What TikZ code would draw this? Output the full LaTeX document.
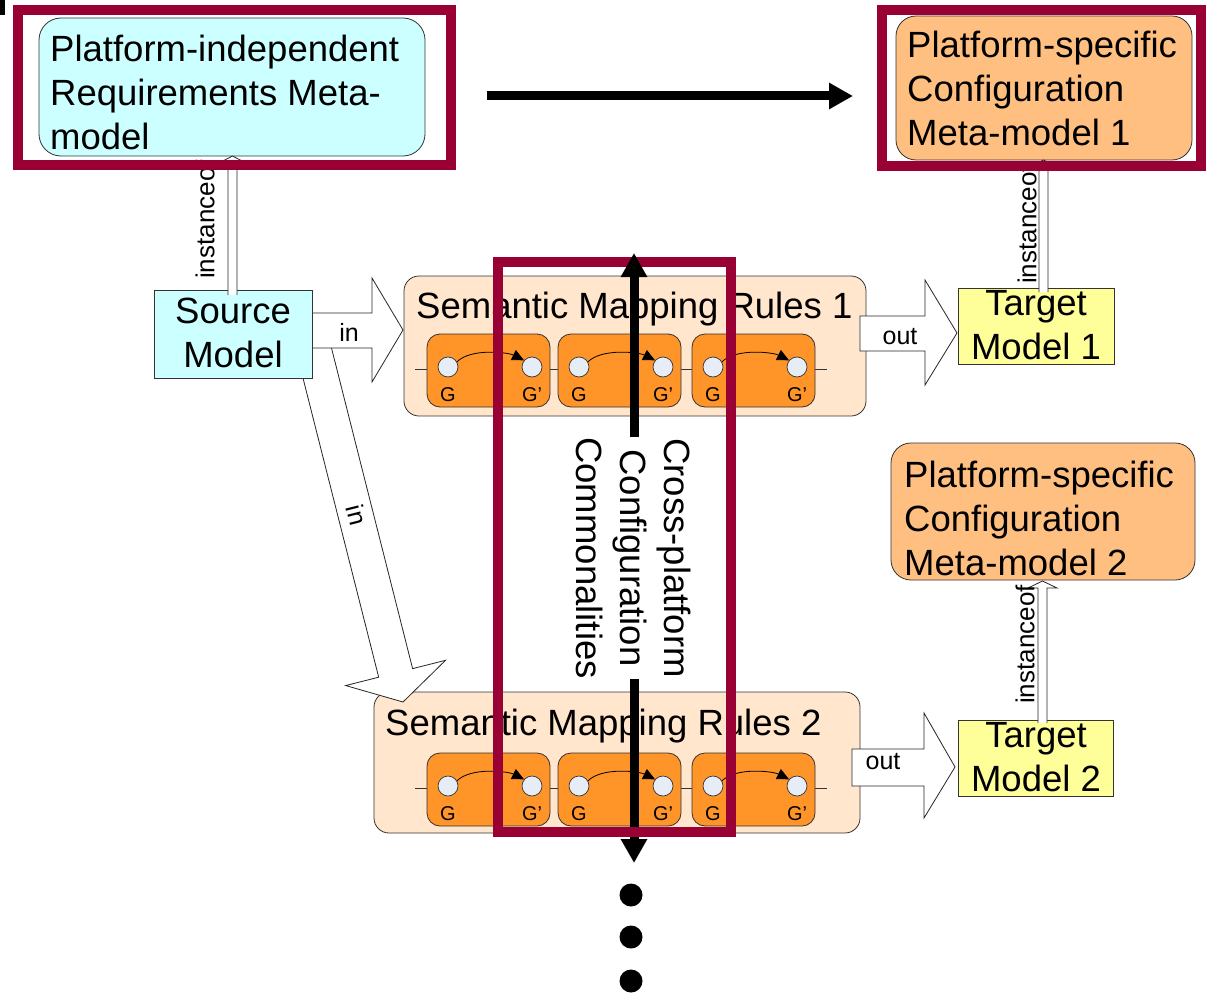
\documentclass[tikz,border=0pt]{standalone}
\usepackage{fontspec}
\setmainfont{Liberation Sans}
\usetikzlibrary{arrows.meta}

\definecolor{hlred}{HTML}{990033}
\definecolor{reqcyan}{HTML}{CCFFFF}
\definecolor{cfgorange}{HTML}{FFBF80}
\definecolor{rulepeach}{HTML}{FFE6CC}
\definecolor{ruleorange}{HTML}{FF9429}
\definecolor{graphnode}{HTML}{E6EDF7}
\definecolor{tgtyellow}{HTML}{FFFF99}
\definecolor{edgegrey}{HTML}{333333}

\tikzset{
  bigtext/.style={font=\fontsize{36.5}{44}\selectfont, inner sep=0pt, align=left},
  lbltext/.style={font=\fontsize{25}{30}\selectfont, inner sep=0pt},
  insttext/.style={font=\fontsize{26}{30}\selectfont, inner sep=0pt},
  gtext/.style={font=\fontsize{20}{24}\selectfont, inner sep=0pt},
  plainbox/.style={draw=edgegrey, line width=0.8pt, inner sep=0pt, outer sep=0pt},
  reqbox/.style={plainbox, fill=reqcyan, rounded corners=22pt},
  cfgbox/.style={plainbox, fill=cfgorange, rounded corners=20pt},
  srcbox/.style={plainbox, fill=reqcyan},
  tgtbox/.style={plainbox, fill=tgtyellow},
  container/.style={plainbox, fill=rulepeach, rounded corners=15pt},
  rulebox/.style={plainbox, fill=ruleorange, rounded corners=13pt,
    minimum width=123pt, minimum height=73pt},
  gnode/.style={circle, draw=edgegrey, line width=0.7pt, fill=graphnode,
    inner sep=0pt, minimum size=20pt},
  rail/.style={draw=edgegrey, line width=0.7pt},
  rulearc/.style={draw=black, line width=0.8pt, -{Triangle[length=12pt,width=11pt]}},
  blockarrow/.style={draw=black!85, fill=white, line width=0.8pt, line join=miter},
  hlframe/.style={draw=hlred, line width=10.5pt},
  bigarrow/.style={line width=9pt, -{Triangle[length=24pt,width=25pt]}},
  bigdot/.style={circle, fill=black, inner sep=0pt, minimum size=23pt},
}

\begin{document}
\begin{tikzpicture}[x=1pt,y=-1pt]
\useasboundingbox (0,0) rectangle (1206,995);
\fill[white] (0,0) rectangle (1206,995);

% small corner mark
\fill[black] (0,0) rectangle (5,15);

% ---- rule containers and their graph rules ----
\node[container, minimum width=462pt, minimum height=140pt, anchor=north west] (smr1) at (404,276) {};
\node[container, minimum width=486pt, minimum height=141pt, anchor=north west] (smr2) at (374,692) {};
\node[bigtext, anchor=base west] (smr1t) at (416,318) {Semantic Mapping Rules 1};
\node[bigtext, anchor=base west] (smr2t) at (385,735) {Semantic Mapping Rules 2};

\foreach \r/\t in {a/334,b/753}{
  \draw[rail] (415,\t+35) -- (827,\t+35);
  \foreach \i/\x in {1/427,2/558,3/692}{
    \node[rulebox, anchor=north west] (rb\r\i) at (\x,\t) {};
    \node[gnode] (gl\r\i) at (\x+21,\t+33) {};
    \node[gnode] (gr\r\i) at (\x+105,\t+33) {};
    \draw[rulearc] (gl\r\i.30) .. controls +(14,-14) and +(-16,-8) .. (gr\r\i.140);
    \node[gtext, anchor=base] (gt\r\i) at (\x+21,\t+67) {G};
    \node[gtext, anchor=base] (gp\r\i) at (\x+105,\t+67) {G’};
  }
}

% ---- block arrows ----
% source model to second rule set
\begin{scope}[shift={(403,702)}, rotate=-75.8]
  \draw[blockarrow] (-375,17.5) -- (-30,17.5) -- (-30,51.5) -- (0,0)
    -- (-30,-51.5) -- (-30,-17.5) -- (-375,-17.5) -- cycle;
\end{scope}
\node[lbltext, rotate=-75.8] (inlab2) at (357,515) {in};

% source model to first rule set
\draw[blockarrow] (300,313) -- (372,313) -- (372,278) -- (403,330)
  -- (372,382) -- (372,348) -- (300,348) -- cycle;
\node[lbltext] (inlab1) at (349,332) {in};

% rule sets to target models
\draw[blockarrow] (860,316) -- (925,316) -- (925,280) -- (957,333)
  -- (925,385) -- (925,351) -- (860,351) -- cycle;
\node[lbltext] (outlab1) at (900,337) {out};
\draw[blockarrow] (852,749) -- (924,749) -- (924,713) -- (955,767)
  -- (924,818) -- (924,786) -- (852,786) -- cycle;
\node[lbltext] (outlab2) at (883,762) {out};

% ---- models (multi-line texts are placed by their last baseline) ----
\node[srcbox, minimum width=158pt, minimum height=88pt, anchor=north west] (src) at (154,290) {};
\node[bigtext, align=center, anchor=base] (srct) at (233,367) {Source\\Model};

\node[tgtbox, minimum width=156pt, minimum height=76pt, anchor=north west] (tgt1) at (958,288) {};
\node[bigtext, align=center, anchor=base] (tgt1t) at (1036,359) {Target\\Model 1};

\node[tgtbox, minimum width=155pt, minimum height=76pt, anchor=north west] (tgt2) at (958,720) {};
\node[bigtext, align=center, anchor=base] (tgt2t) at (1036,791) {Target\\Model 2};

\node[reqbox, minimum width=386pt, minimum height=138pt, anchor=north west] (pir) at (39,18) {};
\node[bigtext, anchor=base west] (pirt) at (50,150) {Platform-independent\\Requirements Meta-\\model};

\node[cfgbox, minimum width=296pt, minimum height=144pt, anchor=north west] (cfg1) at (896,16) {};
\node[bigtext, anchor=base west] (cfg1t) at (907,146) {Platform-specific\\Configuration\\Meta-model 1};

\node[cfgbox, minimum width=304pt, minimum height=137pt, anchor=north west] (cfg2) at (891,443) {};
\node[bigtext, anchor=base west] (cfg2t) at (904,575) {Platform-specific\\Configuration\\Meta-model 2};

% ---- instanceof arrows ----
\draw[blockarrow] (228,295) -- (228,162) -- (221,162) -- (232.5,156)
  -- (244,162) -- (237,162) -- (237,295);
\node[insttext, rotate=90, anchor=west] (inst1) at (205,279) {instanceof};

\draw[blockarrow] (1039,292) -- (1039,166) -- (1032,166) -- (1043.5,160)
  -- (1055,166) -- (1048,166) -- (1048,292);
\node[insttext, rotate=90, anchor=west] (inst2) at (1027,284) {instanceof};

\draw[blockarrow] (1038,723) -- (1038,588) -- (1028,588) -- (1042.5,581)
  -- (1057,588) -- (1047,588) -- (1047,723);
\node[insttext, rotate=90, anchor=west] (inst3) at (1025,704) {instanceof};

% ---- derivation arrow between meta-models ----
\coordinate (ha) at (487,96);
\coordinate (hb) at (853,96);
\draw[bigarrow] (ha) -- (hb);

% ---- cross-platform commonalities ----
\node[bigtext, align=center, rotate=-90] (cpc) at (634,558)
  {Cross-platform\\Configuration\\Commonalities};
\coordinate (cpup) at (634,253);
\coordinate (cpdown) at (634,863);
\draw[bigarrow] (cpc.east) -- (cpdown);

% highlight frames
\draw[hlframe] (18,10) rectangle (451,165);
\draw[hlframe] (882,10) rectangle (1201,166);
\draw[hlframe] (498,262) rectangle (731,832);

\draw[bigarrow] (cpc.west) -- (cpup);

% continuation dots
\node[bigdot] (dot1) at (631,895) {};
\node[bigdot] (dot2) at (631,937) {};
\node[bigdot] (dot3) at (631,981) {};
\end{tikzpicture}
\end{document}
